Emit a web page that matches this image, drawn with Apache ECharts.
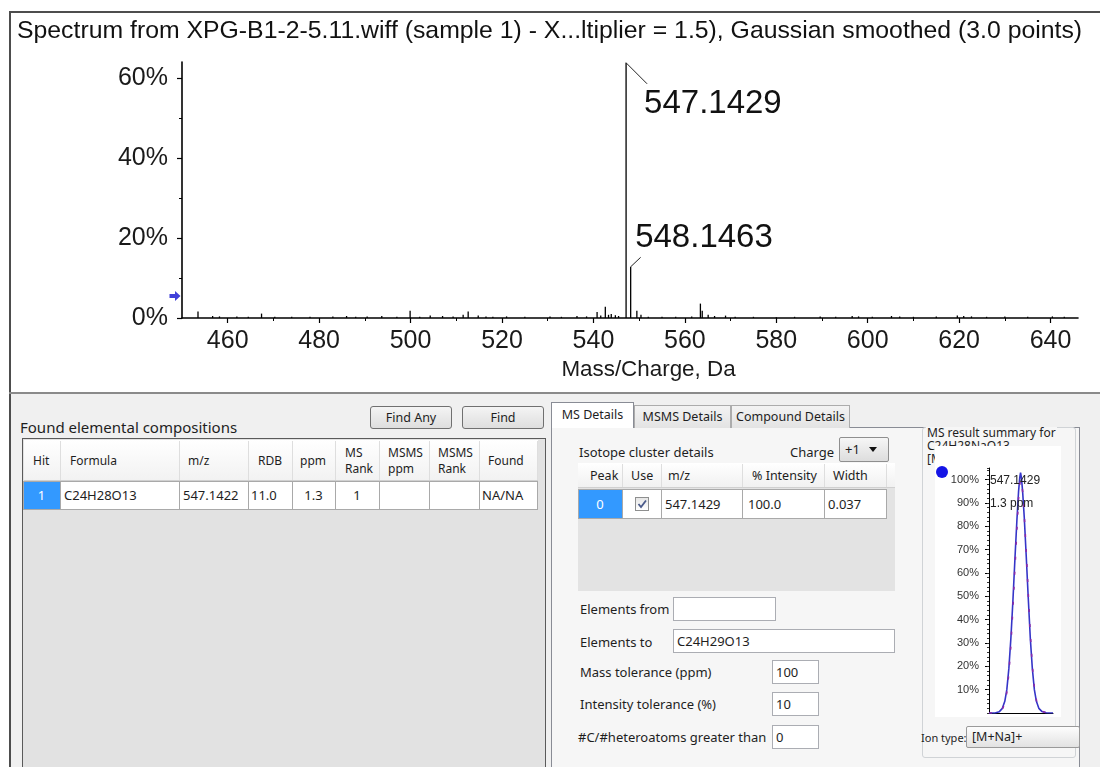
<!DOCTYPE html>
<html>
<head>
<meta charset="utf-8">
<title>Spectrum</title>
<script src="https://cdn.jsdelivr.net/npm/echarts@6/dist/echarts.min.js"></script>
<style>
html,body{margin:0;padding:0;}
body{width:1100px;height:767px;overflow:hidden;background:#fff;position:relative;font-family:"Noto Sans",sans-serif;color:#1e1e1e;}
.a{position:absolute;box-sizing:border-box;}
.t{position:absolute;white-space:nowrap;line-height:1;transform:translateY(-50%);}
.tc{position:absolute;white-space:nowrap;line-height:1;transform:translate(-50%,-50%);}
.btn{border:1px solid #707070;border-radius:3px;background:linear-gradient(#f4f4f4,#dedede);font-size:12.5px;text-align:center;line-height:21px;}
.tb{border:1px solid #abadb3;background:#fff;font-size:13px;line-height:22px;padding-left:3px;}
.tab{border:1px solid #acacac;border-bottom:none;background:linear-gradient(#f3f3f3,#e3e3e3);font-size:12.5px;text-align:center;}
#ec{position:absolute;left:0;top:0;width:1100px;height:767px;z-index:20;pointer-events:none;}
</style>
</head>
<body>
<!-- frame of the spectrum pane -->
<div class="a" style="left:9px;top:11px;width:1091px;height:2px;background:#4d4d4d"></div>
<div class="a" style="left:9px;top:11px;width:2px;height:756px;background:#4d4d4d"></div>
<div class="a" style="left:11px;top:394px;width:1089px;height:373px;background:#f0f0f0"></div>
<div class="a" style="left:9px;top:392px;width:1091px;height:2px;background:#8a8a8a"></div>

<!-- lower left -->
<div class="t" style="left:20px;top:427px;font-size:15px">Found elemental compositions</div>
<div class="a btn" style="left:370px;top:406px;width:82px;height:23px">Find Any</div>
<div class="a btn" style="left:462px;top:406px;width:82px;height:23px">Find</div>
<div class="a" style="left:22px;top:438px;width:524px;height:340px;border:1.5px solid #5a5a5a;background:#e2e2e2"></div>
<div id="hitTable"></div>

<!-- lower right: tabs -->
<div class="a" style="left:551px;top:427px;width:529px;height:350px;border:1px solid #898c95;background:#f6f6f6"></div>
<div class="a tab" style="left:634px;top:405px;width:97px;height:23px;line-height:22px">MSMS Details</div>
<div class="a tab" style="left:731px;top:405px;width:119px;height:23px;line-height:22px">Compound Details</div>
<div class="a tab" style="left:551px;top:402px;width:83px;height:26px;line-height:23px;background:#fff;border-color:#898c95;z-index:2">MS Details</div>

<div class="t" style="left:579px;top:452px;font-size:13px">Isotope cluster details</div>
<div class="t" style="left:790px;top:452px;font-size:13px">Charge</div>
<div class="a" style="left:839px;top:437px;width:50px;height:25px;border:1px solid #8f8f8f;border-radius:2px;background:linear-gradient(#f6f6f6,#dddddd)"></div>
<div class="t" style="left:845px;top:449px;font-size:13px">+1</div>
<div class="a" style="left:869px;top:447px;width:0;height:0;border-left:4.5px solid transparent;border-right:4.5px solid transparent;border-top:5px solid #111"></div>

<div class="a" style="left:578px;top:463px;width:317px;height:128px;background:#e3e3e3"></div>
<div id="isoTable"></div>

<div class="t" style="left:580px;top:609px;font-size:13px">Elements from</div>
<div class="a tb" style="left:673px;top:597px;width:103px;height:24px"></div>
<div class="t" style="left:580px;top:642px;font-size:13px">Elements to</div>
<div class="a tb" style="left:673px;top:629px;width:222px;height:24px">C24H29O13</div>
<div class="t" style="left:580px;top:672px;font-size:13px">Mass tolerance (ppm)</div>
<div class="a tb" style="left:772px;top:660px;width:47px;height:24px">100</div>
<div class="t" style="left:580px;top:704px;font-size:13px">Intensity tolerance (%)</div>
<div class="a tb" style="left:772px;top:692px;width:47px;height:24px">10</div>
<div class="t" style="left:578px;top:737px;font-size:13px">#C/#heteroatoms greater than</div>
<div class="a tb" style="left:772px;top:725px;width:47px;height:24px">0</div>

<!-- result summary group -->
<div class="a" style="left:922px;top:427px;width:154px;height:331px;border:1px solid #d0d3d6;border-radius:3px"></div>
<div class="t" style="left:926px;top:433px;font-size:12px;background:#f6f6f6;padding:0 1px">MS result summary for</div>
<div class="t" style="left:927px;top:446px;font-size:12px">C24H28NaO13</div>
<div class="t" style="left:927px;top:459px;font-size:12px">[M+Na]+</div>
<div class="a" style="left:935px;top:446px;width:126px;height:271px;background:#fff"></div>
<div class="t" style="left:921px;top:737px;font-size:11px">Ion type:</div>
<div class="a" style="left:966px;top:726px;width:114px;height:22px;border:1px solid #9a9a9a;border-radius:2px;background:linear-gradient(#fdfdfd,#e2e2e2);font-size:12.5px;line-height:20px;padding-left:5px">[M+Na]+</div>

<div id="ec"></div>

<script>
// ---------------- data ----------------
const titleText = 'Spectrum from XPG-B1-2-5.11.wiff (sample 1) - X...ltiplier = 1.5), Gaussian smoothed (3.0 points)';
const xAxisName = 'Mass/Charge, Da';
const xTickLabels = [460, 480, 500, 520, 540, 560, 580, 600, 620, 640];
const xMinorTicks = [470, 490, 510, 530, 550, 570, 590, 610, 630];
const yTickLabels = [0, 20, 40, 60];
const yMinorTicks = [10, 30, 50];

const peakMz = [547.1429, 548.1463];
const peakIntensity = [63.8, 12.8];
const peakLabels = ['547.1429', '548.1463'];

const noiseMz = [
  453.5, 456.7, 458.2, 462.0, 464.5, 467.4, 470.3, 474.0, 478.0, 483.0,
  486.0, 488.0, 490.5, 493.7, 497.0, 499.9, 502.0, 504.3, 507.0, 509.3,
  511.5, 512.6, 514.8, 516.5, 518.0, 521.0, 525.0, 530.5, 533.0, 536.4,
  538.5, 540.8, 541.6, 542.6, 543.3, 543.9, 544.8, 545.5, 549.5, 550.4,
  552.0, 555.0, 558.0, 561.5, 563.4, 563.8, 565.1, 566.5, 568.9, 571.0,
  575.0, 580.0, 584.0, 589.6, 593.0, 596.6, 598.0, 601.0, 605.2, 607.0,
  610.0, 615.0, 619.6, 621.0, 622.7, 626.0, 630.0, 635.0, 640.4, 643.0
];
const noiseIntensity = [
  1.6, 0.5, 0.4, 0.4, 0.3, 1.1, 0.3, 0.3, 0.3, 0.4,
  0.5, 0.3, 0.4, 0.5, 0.3, 1.8, 0.3, 0.6, 0.5, 0.4,
  0.8, 1.6, 0.6, 0.4, 0.3, 0.4, 0.3, 0.4, 0.3, 0.5,
  0.4, 1.5, 0.6, 2.8, 0.8, 1.0, 0.7, 0.5, 1.8, 0.8,
  0.3, 0.3, 0.3, 0.4, 3.6, 1.8, 0.8, 0.5, 0.6, 0.3,
  0.3, 0.2, 0.3, 0.4, 0.3, 0.5, 0.4, 0.3, 0.5, 0.4,
  0.3, 0.4, 0.6, 0.5, 0.4, 0.3, 0.4, 0.3, 0.4, 0.3
];
const referenceLevel = [5.5];

const profileMz = [547.065, 547.080, 547.090, 547.098, 547.104, 547.109, 547.114, 547.119, 547.124,
  547.129, 547.134, 547.138, 547.141, 547.1429, 547.145, 547.148, 547.152, 547.157, 547.162,
  547.167, 547.172, 547.177, 547.182, 547.188, 547.196, 547.206, 547.223];
const profileObserved = [0, 0, 0.5, 2, 5, 10, 19, 32, 48, 66, 83, 95, 101, 103, 101, 95, 84, 67, 49,
  32, 19, 10, 5, 2, 0.6, 0.1, 0];
const profileTheoretical = [0, 0, 0.4, 1.6, 4.2, 8.8, 17, 29, 45, 62, 79, 92, 98, 100, 99, 95, 85, 69, 51,
  34, 20, 11, 5.5, 2.2, 0.7, 0.1, 0];
const profileTicks = [10, 20, 30, 40, 50, 60, 70, 80, 90, 100];
const profileNote = ['547.1429', '1.3 ppm'];

const hitHeaders = ['Hit', 'Formula', 'm/z', 'RDB', 'ppm', 'MS\nRank', 'MSMS\nppm', 'MSMS\nRank', 'Found'];
const hitRow = ['1', 'C24H28O13', '547.1422', '11.0', '1.3', '1', '', '', 'NA/NA'];
const isoHeaders = ['Peak', 'Use', 'm/z', '% Intensity', 'Width'];
const isoRow = ['0', true, '547.1429', '100.0', '0.037'];

// ---------------- html tables ----------------
function el(parent, cls, style, text) {
  const d = document.createElement('div');
  if (cls) d.className = cls;
  d.setAttribute('style', style);
  if (text != null) d.textContent = text;
  parent.appendChild(d);
  return d;
}
(function buildHitTable() {
  const host = document.getElementById('hitTable');
  const edges = [23, 60, 179, 248, 292, 335, 379, 429, 479, 537];
  const headX = [33, 70, 188, 258, 300, 345, 388, 438, 488];
  const cellX = [41.5, 64, 183, 251, 313.5, 357, 0, 0, 482];
  const cellCenter = [true, false, false, false, true, true, false, false, false];
  el(host, 'a', 'left:23.5px;top:439.5px;width:514px;height:41px;background:linear-gradient(#ffffff,#f2f2f2);border-bottom:1px solid #d0d0d0');
  for (let i = 0; i < hitHeaders.length; i++) {
    el(host, 'a', `left:${edges[i + 1]}px;top:441px;width:1px;height:39px;background:#dedede`);
    const lines = hitHeaders[i].split('\n');
    if (lines.length === 1) {
      el(host, 't', `left:${headX[i]}px;top:461px;font-size:12px`, lines[0]);
    } else {
      el(host, 't', `left:${headX[i]}px;top:453px;font-size:12px`, lines[0]);
      el(host, 't', `left:${headX[i]}px;top:469px;font-size:12px`, lines[1]);
    }
    const bg = i === 0 ? '#3399ff' : '#ffffff';
    el(host, 'a', `left:${edges[i]}px;top:481px;width:${edges[i + 1] - edges[i] + 1}px;height:29px;background:${bg};border:1px solid #a9a9a9`);
    if (hitRow[i] !== '') {
      const color = i === 0 ? '#ffffff' : '#1e1e1e';
      el(host, cellCenter[i] ? 'tc' : 't', `left:${cellX[i]}px;top:495px;font-size:13px;color:${color}`, hitRow[i]);
    }
  }
})();
(function buildIsoTable() {
  const host = document.getElementById('isoTable');
  const edges = [578, 622, 661, 742, 824, 886];
  const headX = [590, 631, 668, 752, 833];
  const cellX = [600, 0, 665, 748, 828];
  el(host, 'a', 'left:578px;top:463px;width:317px;height:25px;background:linear-gradient(#ffffff,#f1f1f1);border-bottom:1px solid #d0d0d0');
  for (let i = 0; i < isoHeaders.length; i++) {
    el(host, 'a', `left:${edges[i + 1]}px;top:464px;width:1px;height:23px;background:#dedede`);
    el(host, 't', `left:${headX[i]}px;top:476px;font-size:12.5px`, isoHeaders[i]);
    const bg = i === 0 ? '#3399ff' : '#ffffff';
    el(host, 'a', `left:${edges[i]}px;top:489px;width:${edges[i + 1] - edges[i] + 1}px;height:30px;background:${bg};border:1px solid #a9a9a9`);
    const v = isoRow[i];
    if (v === true) {
      const b = el(host, 'a', 'left:635px;top:497px;width:14px;height:14px;border:1px solid #8e8f8f;background:linear-gradient(#e6e6e6,#ffffff)');
      b.innerHTML = '<svg width="12" height="12" style="position:absolute;left:0;top:0"><path d="M2.5 6 L5 9 L10 2.5" stroke="#4a5a8a" stroke-width="1.8" fill="none"/></svg>';
    } else if (i === 0) {
      el(host, 'tc', `left:${cellX[i]}px;top:504px;font-size:13px;color:#fff`, v);
    } else {
      el(host, 't', `left:${cellX[i]}px;top:504px;font-size:13px`, v);
    }
  }
})();

// ---------------- echarts ----------------
const F = "'Liberation Sans', Arial, sans-serif";
const stickData = [];
for (let i = 0; i < noiseMz.length; i++) stickData.push([noiseMz[i], noiseIntensity[i]]);
for (let i = 0; i < peakMz.length; i++) stickData.push([peakMz[i], peakIntensity[i]]);
const peakData = peakMz.map((m, i) => [m, peakIntensity[i]]);
const obsData = profileMz.map((m, i) => [m, profileObserved[i]]);
const theoData = profileMz.map((m, i) => [m, profileTheoretical[i]]);

// label placement offsets (px) relative to each annotated peak's apex
const leaderEnd = [[21, 21], [10, -9.5]];
const labelAt = [[18, 41], [4.5, -28.5]];

const chart = echarts.init(document.getElementById('ec'), null, { renderer: 'canvas', width: 1100, height: 767 });
chart.setOption({
  backgroundColor: 'transparent',
  animation: false,
  title: [
    { text: titleText, left: 17, top: 17, padding: 0,
      textStyle: { fontFamily: F, fontSize: 24.8, fontWeight: 'normal', color: '#111', lineHeight: 28 } },
    { text: profileNote.join('\n'), left: 990, top: 469, padding: 0,
      textStyle: { fontFamily: F, fontSize: 12, fontWeight: 'normal', color: '#222', lineHeight: 23 } }
  ],
  grid: [
    { left: 182, top: 62, width: 896, height: 256, show: false },
    { left: 989, top: 468, width: 64, height: 245, show: false }
  ],
  xAxis: [
    { gridIndex: 0, type: 'value', min: 450, max: 646, position: 'bottom',
      axisLine: { show: true, lineStyle: { color: '#000', width: 1.6 } },
      axisTick: { show: true, customValues: xTickLabels, length: 5, lineStyle: { color: '#000', width: 1.2 } },
      axisLabel: { show: true, customValues: xTickLabels, fontFamily: F, fontSize: 25, color: '#1a1a1a', margin: 11 },
      splitLine: { show: false },
      name: xAxisName, nameLocation: 'middle', nameGap: 41,
      nameTextStyle: { fontFamily: F, fontSize: 22.4, color: '#1a1a1a', padding: [0, 0, 0, 37] } },
    { gridIndex: 0, type: 'value', min: 450, max: 646, position: 'bottom',
      axisLine: { show: false },
      axisTick: { show: true, customValues: xMinorTicks, length: 3, lineStyle: { color: '#000', width: 1 } },
      axisLabel: { show: false }, splitLine: { show: false } },
    { gridIndex: 1, type: 'value', min: 547.065, max: 547.223, position: 'bottom',
      axisLine: { show: true, lineStyle: { color: '#000', width: 1 } },
      axisTick: { show: false }, axisLabel: { show: false }, splitLine: { show: false } }
  ],
  yAxis: [
    { gridIndex: 0, type: 'value', min: 0, max: 64, position: 'left',
      axisLine: { show: true, lineStyle: { color: '#000', width: 1.6 } },
      axisTick: { show: true, customValues: yTickLabels, length: 5, lineStyle: { color: '#000', width: 1.2 } },
      axisLabel: { show: true, customValues: yTickLabels, formatter: '{value}%', fontFamily: F, fontSize: 25, color: '#1a1a1a', margin: 14 },
      splitLine: { show: false } },
    { gridIndex: 0, type: 'value', min: 0, max: 64, position: 'left',
      axisLine: { show: false },
      axisTick: { show: true, customValues: yMinorTicks, length: 3, lineStyle: { color: '#000', width: 1 } },
      axisLabel: { show: false }, splitLine: { show: false } },
    { gridIndex: 1, type: 'value', min: 0, max: 105, position: 'left',
      axisLine: { show: true, lineStyle: { color: '#000', width: 1 } },
      axisTick: { show: true, customValues: profileTicks, length: 4, lineStyle: { color: '#000', width: 1 } },
      axisLabel: { show: true, customValues: profileTicks, formatter: '{value}%', fontFamily: F, fontSize: 11, color: '#333', margin: 10 },
      splitLine: { show: false } },
    { gridIndex: 1, type: 'value', min: 0, max: 105, interval: 2, position: 'left',
      axisLine: { show: false },
      axisTick: { show: true, length: 2, lineStyle: { color: '#333', width: 1 } },
      axisLabel: { show: false }, splitLine: { show: false } }
  ],
  graphic: [
    { type: 'circle', shape: { cx: 942, cy: 472, r: 6 }, style: { fill: '#1414e6' }, z: 100 }
  ],
  series: [
    { type: 'custom', xAxisIndex: 0, yAxisIndex: 0, data: stickData, clip: true,
      encode: { x: 0, y: 1 },
      renderItem: function (params, api) {
        const p0 = api.coord([api.value(0), 0]);
        const p1 = api.coord([api.value(0), api.value(1)]);
        return { type: 'line', shape: { x1: p0[0], y1: p0[1], x2: p1[0], y2: p1[1] },
          style: { stroke: '#000', lineWidth: 1.3 } };
      } },
    { type: 'custom', xAxisIndex: 0, yAxisIndex: 0, data: peakData, clip: false,
      encode: { x: 0, y: 1 },
      renderItem: function (params, api) {
        const i = params.dataIndex;
        const p = api.coord([api.value(0), api.value(1)]);
        return { type: 'group', children: [
          { type: 'line', shape: { x1: p[0], y1: p[1], x2: p[0] + leaderEnd[i][0], y2: p[1] + leaderEnd[i][1] },
            style: { stroke: '#222', lineWidth: 1 } },
          { type: 'text', x: p[0] + labelAt[i][0], y: p[1] + labelAt[i][1],
            style: { text: peakLabels[i], fontFamily: F, fontSize: 33, fill: '#111', align: 'left', verticalAlign: 'middle' } }
        ] };
      } },
    { type: 'scatter', xAxisIndex: 0, yAxisIndex: 0,
      data: referenceLevel.map(v => [450, v]),
      symbol: 'path://M0,3 L5,3 L5,0 L10,5 L5,10 L5,7 L0,7 Z', symbolSize: [11, 10], symbolOffset: [-7, 0],
      itemStyle: { color: '#1010d0' }, silent: true },
    { type: 'line', xAxisIndex: 2, yAxisIndex: 2, data: obsData, symbol: 'none', smooth: false,
      lineStyle: { color: '#3535c8', width: 1.6 } },
    { type: 'line', xAxisIndex: 2, yAxisIndex: 2, data: theoData, symbol: 'none', smooth: false,
      lineStyle: { color: '#8a2aa8', width: 1.6, type: [3, 12] } }
  ]
});
</script>
</body>
</html>
